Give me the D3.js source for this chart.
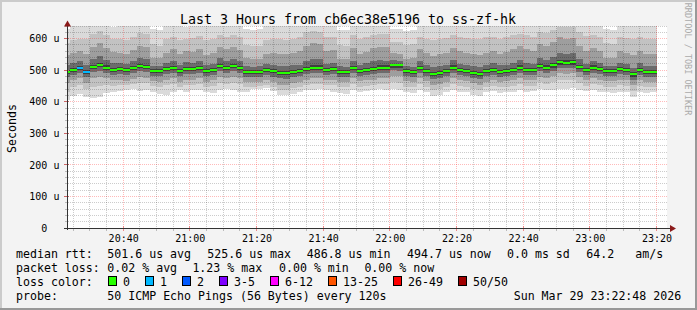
<!DOCTYPE html>
<html><head><meta charset="utf-8">
<script src="https://cdn.jsdelivr.net/npm/d3@7"></script>
<style>
html,body{margin:0;padding:0;background:#f3f3f3;}
svg{display:block;}
text{font-family:"DejaVu Sans Mono",monospace;fill:#000;}
</style></head><body>
<svg id="c" width="697" height="310"></svg>
<script>
// ---- data ----
const titleText = "Last 3 Hours from cb6ec38e5196 to ss-zf-hk";
const yLabel = "Seconds";
const watermark = "RRDTOOL / TOBI OETIKER";
const viewStart = new Date(2026, 2, 29, 20, 23, 9);
const viewEnd = new Date(2026, 2, 29, 23, 23, 9);
const firstStepStart = new Date(2026, 2, 29, 20, 22, 0);
const stepMinutes = 2;
const yMax = 640;
const yMajorTicks = [0, 100, 200, 300, 400, 500, 600];

// median rtt per 2-minute step (microseconds)
const median = [495,501,508,495,511,517,508,501,504,501, 508,514,511,498,498,504,508,498,504,504, 508,498,501,514,508,514,508,495,495,495,
 501,498,492,492,495,498,504,508,508,501, 504,495,495,508,498,501,504,508,508,515, 515,498,495,508,498,489,492,498,508,501,
 498,492,489,498,501,495,498,501,508,501, 501,514,508,515,525.6,523,525,511,501,508, 504,498,498,504,501,486.8,501,495,494.7];
// lost pings per step
const lost = [0,0,1,1,0,0,0,0,0,0, 0,0,0,0,0,0,0,0,0,0, 0,0,0,0,0,0,0,0,0,0,
 0,0,0,0,0,0,0,0,0,0, 0,0,0,0,0,0,0,0,0,0, 0,0,0,0,0,0,0,0,0,0,
 0,0,0,0,0,0,0,0,0,0, 0,0,0,0,0,0,0,0,0,0, 0,0,0,0,0,0,0,0,0];

// smoke: ping distribution per step
const pingMax = [632,640,640,640,640,640,640,636,640,640, 640,640,640,630,628,640,640,640,636,640, 640,640,640,640,640,640,640,632,628,630,
 640,640,640,640,640,640,640,640,640,640, 640,628,626,640,640,640,640,640,640,632, 630,624,628,640,640,640,640,640,640,640,
 640,640,640,640,640,640,640,640,640,640, 640,640,640,640,640,640,640,640,640,640, 640,630,628,640,640,640,640,640,640];
const pingP95 = [585,595,600,598,615,625,612,600,598,596, 605,618,615,582,578,598,605,596,600,602, 608,596,600,612,606,610,604,580,576,578,
 596,600,598,596,600,604,620,625,622,605, 606,580,578,610,600,604,612,616,614,590, 588,580,582,606,600,596,598,602,610,604,
 602,600,598,604,606,600,604,610,616,612, 606,620,618,628,636,636,636,622,608,612, 606,585,582,604,602,600,606,600,598];
const pingP85 = [548,556,562,552,575,585,570,558,556,552, 565,578,574,540,538,556,566,550,560,558, 566,548,556,575,566,572,564,538,534,536,
 552,556,552,550,554,560,578,586,582,560, 564,536,534,570,552,558,570,575,572,555, 552,536,538,566,554,546,550,556,570,560,
 556,552,548,556,560,552,558,566,576,568, 562,582,578,590,604,600,602,578,562,570, 562,540,538,560,556,548,562,552,550];
const pingP70 = [515,522,530,518,536,545,532,522,524,520, 530,538,534,514,513,524,530,518,525,524, 530,516,521,538,530,536,528,512,511,512,
 520,518,514,513,515,518,530,536,534,520, 524,512,511,530,518,522,528,532,530,532, 530,513,511,530,518,510,513,518,532,521,
 518,512,509,518,522,515,518,522,532,522, 520,540,532,542,556,552,554,534,520,530, 524,514,513,524,521,507,522,514,513];
const pingP58 = [501,507,514,501,518,524,515,507,510,507, 514,521,517,504,504,510,514,504,510,510, 514,504,507,521,514,520,514,501,501,501,
 507,504,498,498,501,504,511,515,515,507, 510,501,501,514,504,507,510,515,515,521, 521,504,501,514,504,495,498,504,515,507,
 504,498,495,504,507,501,504,507,515,507, 507,521,515,522,533,531,533,518,507,515, 510,504,504,510,507,493,507,501,501];
const pingP42 = [488,495,501,488,504,509,501,495,497,494, 501,507,504,492,491,497,501,491,497,497, 501,491,494,507,501,507,501,488,488,488,
 494,491,485,484,488,491,497,501,501,494, 497,488,488,501,491,494,497,501,501,508, 508,491,488,501,491,482,485,491,501,494,
 491,485,482,491,494,488,491,494,501,494, 494,507,501,508,517,515,517,504,494,501, 497,491,491,497,494,480,494,488,488];
const pingP30 = [478,486,492,478,494,499,491,485,488,485, 491,497,494,483,482,488,492,482,488,488, 492,482,485,497,492,497,492,480,479,480,
 485,480,474,473,478,482,488,492,492,485, 488,479,479,492,482,485,488,492,492,500, 499,482,479,492,482,472,475,482,492,485,
 482,476,472,482,485,479,482,485,492,485, 485,498,492,499,508,506,508,495,485,492, 488,482,482,488,485,470,485,479,478];
const pingP15 = [458,468,474,458,475,480,474,468,470,467, 473,479,476,466,464,470,474,464,470,470, 474,464,468,480,474,480,474,463,462,464,
 469,462,454,453,460,464,470,474,474,468, 470,462,462,474,465,468,470,474,475,482, 482,466,462,474,465,454,456,464,474,468,
 465,458,454,464,468,462,465,468,474,468, 468,480,474,482,490,488,490,478,468,474, 470,465,465,470,468,452,468,462,462];
const pingP05 = [432,448,452,440,446,450,452,450,452,452, 456,460,458,450,446,452,456,448,452,454, 456,448,450,460,456,460,456,446,448,450,
 452,446,438,437,442,448,454,456,456,452, 454,446,446,456,448,450,452,456,456,462, 460,448,446,456,448,436,440,448,456,450,
 448,440,436,448,450,446,448,450,456,450, 450,462,456,462,470,468,470,460,450,456, 452,448,448,452,450,434,450,446,446];
const pingMin = [405,418,425,415,412,414,428,432,435,436, 440,435,438,430,425,422,432,436,430,438, 436,432,428,436,440,436,430,432,440,440,
 445,435,422,420,425,430,436,438,440,436, 430,428,425,436,432,434,436,440,438,440, 436,432,428,436,430,418,420,430,436,432,
 430,422,418,430,434,428,430,432,436,432, 434,440,436,438,440,440,442,438,434,436, 432,430,428,432,430,415,432,428,430];

// legend
const rttLabel = "median rtt:";
const rttItems = ["501.6 us avg", "525.6 us max", "486.8 us min", "494.7 us now", "0.0 ms sd", "64.2", "am/s"];
const lossLabel = "packet loss:";
const lossItems = ["0.02 % avg", "1.23 % max", "0.00 % min", "0.00 % now"];
const lossColorLabel = "loss color:";
const lossClasses = ["0", "1", "2", "3-5", "6-12", "13-25", "26-49", "50/50"];
const lossColors = ["#26ff00", "#00b8ff", "#0059ff", "#7e00ff", "#ff00ff", "#ff5500", "#ff0000", "#a10000"];
const probeLabel = "probe:";
const probeText = "50 ICMP Echo Pings (56 Bytes) every 120s";
const stampText = "Sun Mar 29 23:22:48 2026";

// ---- drawing ----
const W = 697, H = 310;
const L = 67, R = 667, T = 26, B = 228;
const svg = d3.select("#c");

svg.append("rect").attr("width", W).attr("height", H).attr("fill", "#f3f3f3");
svg.append("rect").attr("x", 0).attr("y", 0).attr("width", W).attr("height", 2).attr("fill", "#cbcbcb");
svg.append("rect").attr("x", 0).attr("y", 0).attr("width", 2).attr("height", H).attr("fill", "#cbcbcb");
svg.append("rect").attr("x", W - 2).attr("y", 0).attr("width", 2).attr("height", H).attr("fill", "#999");
svg.append("rect").attr("x", 0).attr("y", H - 2).attr("width", W).attr("height", 2).attr("fill", "#999");

const x = d3.scaleTime().domain([viewStart, viewEnd]).range([L, R]);
const y = d3.scaleLinear().domain([0, yMax]).range([B, T]);

const defs = svg.append("defs");
defs.append("clipPath").attr("id", "plot")
  .append("rect").attr("x", L).attr("y", T).attr("width", R - L).attr("height", B - T);
const mkPat = (id, w, h, col) => defs.append("pattern").attr("id", id)
  .attr("patternUnits", "userSpaceOnUse").attr("width", w).attr("height", h)
  .append("rect").attr("width", 1).attr("height", 1).attr("fill", col);
mkPat("vGrey", 1, 2, "rgba(0,0,0,0.2)");
mkPat("hGrey", 2, 1, "rgba(0,0,0,0.2)");
mkPat("vRed", 1, 2, "rgba(255,0,0,0.27)");
mkPat("hRed", 2, 1, "rgba(255,0,0,0.27)");

svg.append("rect").attr("x", L).attr("y", T).attr("width", R - L).attr("height", B - T).attr("fill", "#fff");

const plot = svg.append("g").attr("clip-path", "url(#plot)").attr("shape-rendering", "crispEdges");
const stepStart = i => d3.timeMinute.offset(firstStepStart, i * stepMinutes);
const idx = median.map((_, i) => i);
const sx = i => Math.round(x(stepStart(i)));

const bands = [
  [pingMin, pingMax, "#dadada"],
  [pingP05, pingP95, "#c2c2c2"],
  [pingP15, pingP85, "#9e9e9e"],
  [pingP30, pingP70, "#6c6c6c"],
  [pingP42, pingP58, "#404040"]
];
bands.forEach(([lo, hi, col]) => {
  plot.append("g").selectAll("rect").data(idx).join("rect")
    .attr("x", i => sx(i))
    .attr("width", i => sx(i + 1) - sx(i))
    .attr("y", i => Math.round(y(hi[i])))
    .attr("height", i => Math.round(y(lo[i])) - Math.round(y(hi[i])))
    .attr("fill", col);
});

// median line coloured by loss
const lossColorOf = n => n === 0 ? lossColors[0] : n === 1 ? lossColors[1] : n === 2 ? lossColors[2] :
  n <= 5 ? lossColors[3] : n <= 12 ? lossColors[4] : n <= 25 ? lossColors[5] : n < 50 ? lossColors[6] : lossColors[7];

// grid (dotted, drawn over the smoke)
const grid = svg.append("g").attr("shape-rendering", "crispEdges");
const minorT = d3.timeMinute.every(5).range(viewStart, viewEnd).filter(d => d.getMinutes() % 20 !== 0);
const majorT = d3.timeMinute.every(20).range(viewStart, viewEnd);
const yMinor = d3.range(20, yMax + 1, 20).filter(v => v % 100 !== 0);
grid.selectAll(".vmin").data(minorT).join("rect")
  .attr("x", d => Math.floor(x(d))).attr("width", 1).attr("y", T).attr("height", B - T)
  .attr("fill", "url(#vGrey)");
grid.selectAll(".hmin").data(yMinor).join("rect")
  .attr("x", L - 2).attr("width", R - L + 2).attr("y", v => Math.floor(y(v))).attr("height", 1)
  .attr("fill", "url(#hGrey)");
grid.selectAll(".vmaj").data(majorT).join("rect")
  .attr("x", d => Math.floor(x(d))).attr("width", 1).attr("y", T).attr("height", B - T)
  .attr("fill", "url(#vRed)");
grid.selectAll(".hmaj").data(yMajorTicks.filter(v => v > 0)).join("rect")
  .attr("x", L - 2).attr("width", R - L + 2).attr("y", v => Math.floor(y(v))).attr("height", 1)
  .attr("fill", "url(#hRed)");

// median on top
svg.append("g").attr("clip-path", "url(#plot)").attr("shape-rendering", "crispEdges")
  .selectAll("rect").data(idx).join("rect")
  .attr("x", i => sx(i))
  .attr("width", i => sx(i + 1) - sx(i))
  .attr("y", i => Math.round(y(median[i])) - 1)
  .attr("height", 2)
  .attr("fill", i => lossColorOf(lost[i]));

// axis ticks
const ax = svg.append("g").attr("shape-rendering", "crispEdges");
ax.selectAll(".xt").data(minorT).join("line")
  .attr("x1", d => Math.floor(x(d)) + 0.5).attr("x2", d => Math.floor(x(d)) + 0.5)
  .attr("y1", B).attr("y2", B + 3).attr("stroke", "#bbb");
ax.selectAll(".xT").data(majorT).join("line")
  .attr("x1", d => Math.floor(x(d)) + 0.5).attr("x2", d => Math.floor(x(d)) + 0.5)
  .attr("y1", B - 2).attr("y2", B + 3).attr("stroke", "#e88");
ax.selectAll(".yt").data(yMinor).join("line")
  .attr("x1", L - 2).attr("x2", L)
  .attr("y1", v => Math.floor(y(v)) + 0.5).attr("y2", v => Math.floor(y(v)) + 0.5).attr("stroke", "#bbb");
ax.selectAll(".yT").data(yMajorTicks).join("line")
  .attr("x1", L - 3).attr("x2", L + 2)
  .attr("y1", v => Math.floor(y(v)) + 0.5).attr("y2", v => Math.floor(y(v)) + 0.5).attr("stroke", "#c66");

// axis lines + arrows
ax.append("line").attr("x1", L + 0.5).attr("x2", L + 0.5).attr("y1", B + 2).attr("y2", 24).attr("stroke", "#333");
ax.append("line").attr("x1", L - 3).attr("x2", 671).attr("y1", B + 0.5).attr("y2", B + 0.5).attr("stroke", "#333");
svg.append("path").attr("d", `M${L - 3},26.5 L${L + 4},26.5 L${L + 0.5},20.5 Z`).attr("fill", "#8b1a1a");
svg.append("path").attr("d", `M670,${B - 3} L670,${B + 4} L676,${B + 0.5} Z`).attr("fill", "#8b1a1a");

// axis labels via d3 axes
const xAxis = d3.axisBottom(x).ticks(d3.timeMinute.every(20)).tickFormat(d3.timeFormat("%H:%M"))
  .tickSize(0).tickPadding(6.6);
const gx = svg.append("g").attr("transform", `translate(0,${B})`).call(xAxis);
gx.select(".domain").remove();
gx.selectAll("text").style("font-family", "DejaVu Sans Mono").style("font-size", "10px").attr("fill", "#000");

const yAxis = d3.axisLeft(y).tickValues(yMajorTicks)
  .tickFormat(v => v === 0 ? "0\u00a0\u00a0" : v + "\u00a0u").tickSize(0).tickPadding(7.6);
const gy = svg.append("g").attr("transform", `translate(${L},0)`).call(yAxis);
gy.select(".domain").remove();
gy.selectAll("text").style("font-family", "DejaVu Sans Mono").style("font-size", "10px").attr("fill", "#000");

// titles
svg.append("text").attr("x", 348).attr("y", 23.5).attr("text-anchor", "middle")
  .style("font-size", "13.3px").text(titleText);
svg.append("text").attr("transform", "translate(15.5,128.5) rotate(-90)").attr("text-anchor", "middle")
  .style("font-size", "11.6px").text(yLabel);
svg.append("text").attr("transform", "translate(684.5,59) rotate(90)").attr("text-anchor", "middle")
  .style("font-size", "8.5px").style("fill", "#aaa").text(watermark);

// legend
const lg = svg.append("g").style("font-size", "11.6px").attr("xml:space", "preserve");
const putText = (s, xx, yy) => lg.append("text").attr("x", xx).attr("y", yy).text(s);
putText(rttLabel, 16, 258);
[107.3, 207.3, 306.7, 407, 507, 586.3, 635.3].forEach((xx, i) => putText(rttItems[i], xx, 258));
putText(lossLabel, 16, 272);
[107.3, 192.4, 279, 364.4].forEach((xx, i) => putText(lossItems[i], xx, 272));
putText(lossColorLabel, 16, 286);
let bx = 108;
lossClasses.forEach((c, i) => {
  lg.append("rect").attr("x", bx + 0.5).attr("y", 276.5).attr("width", 8).attr("height", 9)
    .attr("fill", lossColors[i]).attr("stroke", "#000").attr("shape-rendering", "crispEdges");
  putText(c, bx + 15, 286);
  bx += 15 + c.length * 7 + 15;
});
putText(probeLabel, 16, 300);
putText(probeText, 107.3, 300);
putText(stampText, 513.7, 300);
</script>
</body></html>
